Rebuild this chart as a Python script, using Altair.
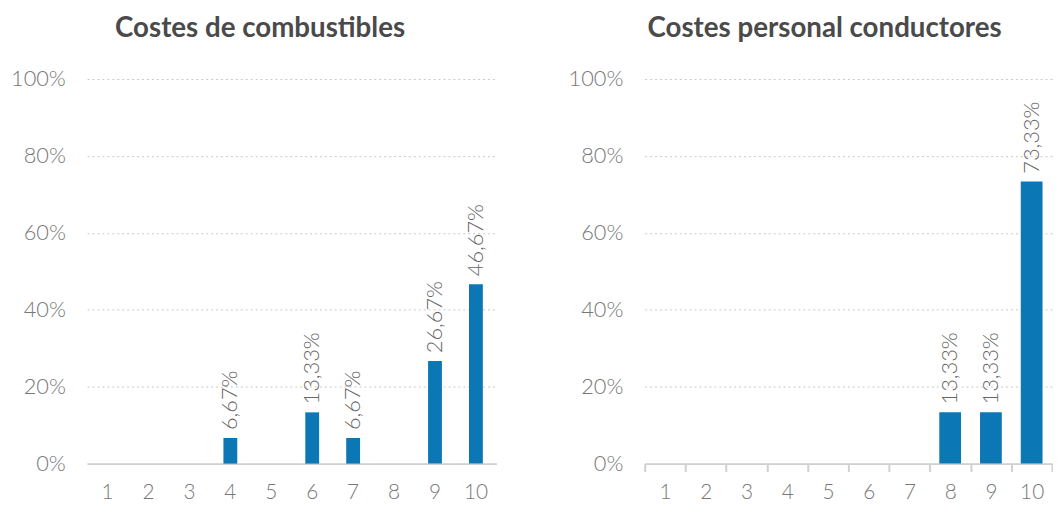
import altair as alt
import pandas as pd

categories = [1, 2, 3, 4, 5, 6, 7, 8, 9, 10]
fuel_values = [0, 0, 0, 6.67, 0, 13.33, 6.67, 0, 26.67, 46.67]
driver_values = [0, 0, 0, 0, 0, 0, 0, 13.33, 13.33, 73.33]
titles = ["Costes de combustibles", "Costes personal conductores"]
y_ticks = [0, 20, 40, 60, 80, 100]

FONT = "Lato"
BLUE = "#0b77b5"


def fmt(v):
    return (f"{v:.2f}".replace(".", ",") + "%") if v > 0 else ""


def panel(values, title, width, bar_size, x_ticks, title_dx):
    df = pd.DataFrame({"cat": categories, "val": values, "lab": [fmt(v) for v in values]})
    base = alt.Chart(df)
    x = alt.X(
        "cat:O",
        title=None,
        scale=alt.Scale(paddingInner=0, paddingOuter=0),
        axis=alt.Axis(
            labelAngle=0,
            ticks=x_ticks,
            tickSize=8,
            tickColor="#d0d0d0",
            tickWidth=2,
            tickBand="extent" if x_ticks else "center",
            domainColor="#d0d0d0",
            domainWidth=2,
            labelPadding=10 if x_ticks else 18,
            labelFontSize=21,
            labelColor="#777777",
            labelFont=FONT,
            labelFontWeight=300,
            grid=False,
        ),
    )
    y = alt.Y(
        "val:Q",
        title=None,
        scale=alt.Scale(domain=[0, 100], nice=False),
        axis=alt.Axis(
            values=y_ticks,
            labelExpr="datum.value + '%'",
            domain=False,
            ticks=False,
            grid=True,
            gridDash=[2, 3],
            gridColor="#c8c8c8",
            gridWidth=1,
            labelPadding=22,
            labelFontSize=22,
            labelColor="#777777",
            labelFont=FONT,
            labelFontWeight=300,
        ),
    )
    bars = base.mark_bar(color=BLUE, size=bar_size).encode(x=x, y=y)
    texts = base.transform_filter("datum.val > 0").mark_text(
        angle=270,
        align="left",
        baseline="middle",
        dx=8,
        fontSize=22,
        font=FONT,
        fontWeight=300,
        color="#666666",
    ).encode(x=x, y=y, text="lab:N")
    return alt.layer(bars, texts).properties(
        width=width,
        height=389,
        title=alt.TitleParams(
            title,
            anchor="middle",
            fontSize=28,
            font=FONT,
            fontWeight="bold",
            color="#4a4a4a",
            offset=26,
            dx=title_dx,
        ),
    )


left = panel(fuel_values, titles[0], 414, 14, False, -32)
right = panel(driver_values, titles[1], 412, 22, True, -24)

chart = (
    alt.hconcat(left, right, spacing=72)
    .properties(padding={"left": 2, "top": 4, "right": 0, "bottom": 0})
    .configure_view(stroke=None)
)

chart.save("out.html", embed_options={"renderer": "svg", "actions": False})
